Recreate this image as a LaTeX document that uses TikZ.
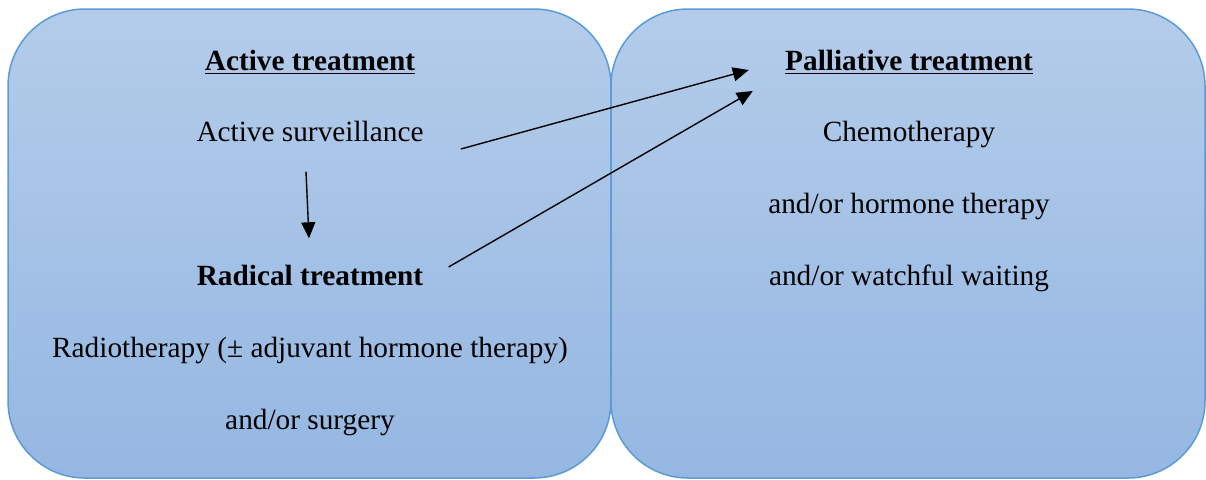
\documentclass[tikz,border=0pt]{standalone}
\usepackage{fontspec}
\setmainfont{Liberation Serif}
\usetikzlibrary{arrows.meta}
\definecolor{boxtop}{RGB}{180,204,234}
\definecolor{boxbottom}{RGB}{149,183,226}
\definecolor{boxline}{RGB}{91,155,213}
\begin{document}
\begin{tikzpicture}[
    x=0.5pt, y=-0.5pt,
    font=\fontsize{14.65pt}{17pt}\selectfont,
    panel/.style={rectangle, draw=boxline, line width=0.75pt, top color=boxtop, bottom color=boxbottom, rounded corners=38.5pt, inner sep=0pt},
    txt/.style={anchor=base, inner sep=0pt},
    arrow/.style={-{Triangle[length=8pt, width=7pt]}, line width=0.7pt}
]
    \useasboundingbox (0,0) rectangle (1206,479);

    % Panels
    \node (active_box) [panel, minimum width=301.5pt, minimum height=234.5pt] at (309.5,243.5) {};
    \node (pall_box) [panel, minimum width=297pt, minimum height=234.5pt] at (908,243.5) {};

    % Active treatment
    \node (active) [txt] at (310,70) {\underline{\textbf{Active treatment}}};
    \node (surv) [txt] at (310,141) {Active surveillance};
    \node (radical) [txt] at (310,285) {\textbf{Radical treatment}};
    \node (radio) [txt] at (310,357) {Radiotherapy (± adjuvant hormone therapy)};
    \node (surgery) [txt] at (310,429) {and/or surgery};

    % Palliative treatment
    \node (pall) [txt] at (909,70) {\underline{\textbf{Palliative treatment}}};
    \node (chemo) [txt] at (909,141) {Chemotherapy};
    \node (hormone) [txt] at (909,213) {and/or hormone therapy};
    \node (waiting) [txt] at (909,285) {and/or watchful waiting};

    % Arrows
    \draw [arrow] ([shift={(-4,30)}]surv.south) -- ([shift={(-1,-26)}]radical.north);
    \draw [arrow] ([shift={(37,18)}]surv.east) -- ([shift={(-36,8)}]pall.west);
    \draw [arrow] ([shift={(25,-8)}]radical.east) -- ([shift={(-32,29)}]pall.west);

\end{tikzpicture}
\end{document}
